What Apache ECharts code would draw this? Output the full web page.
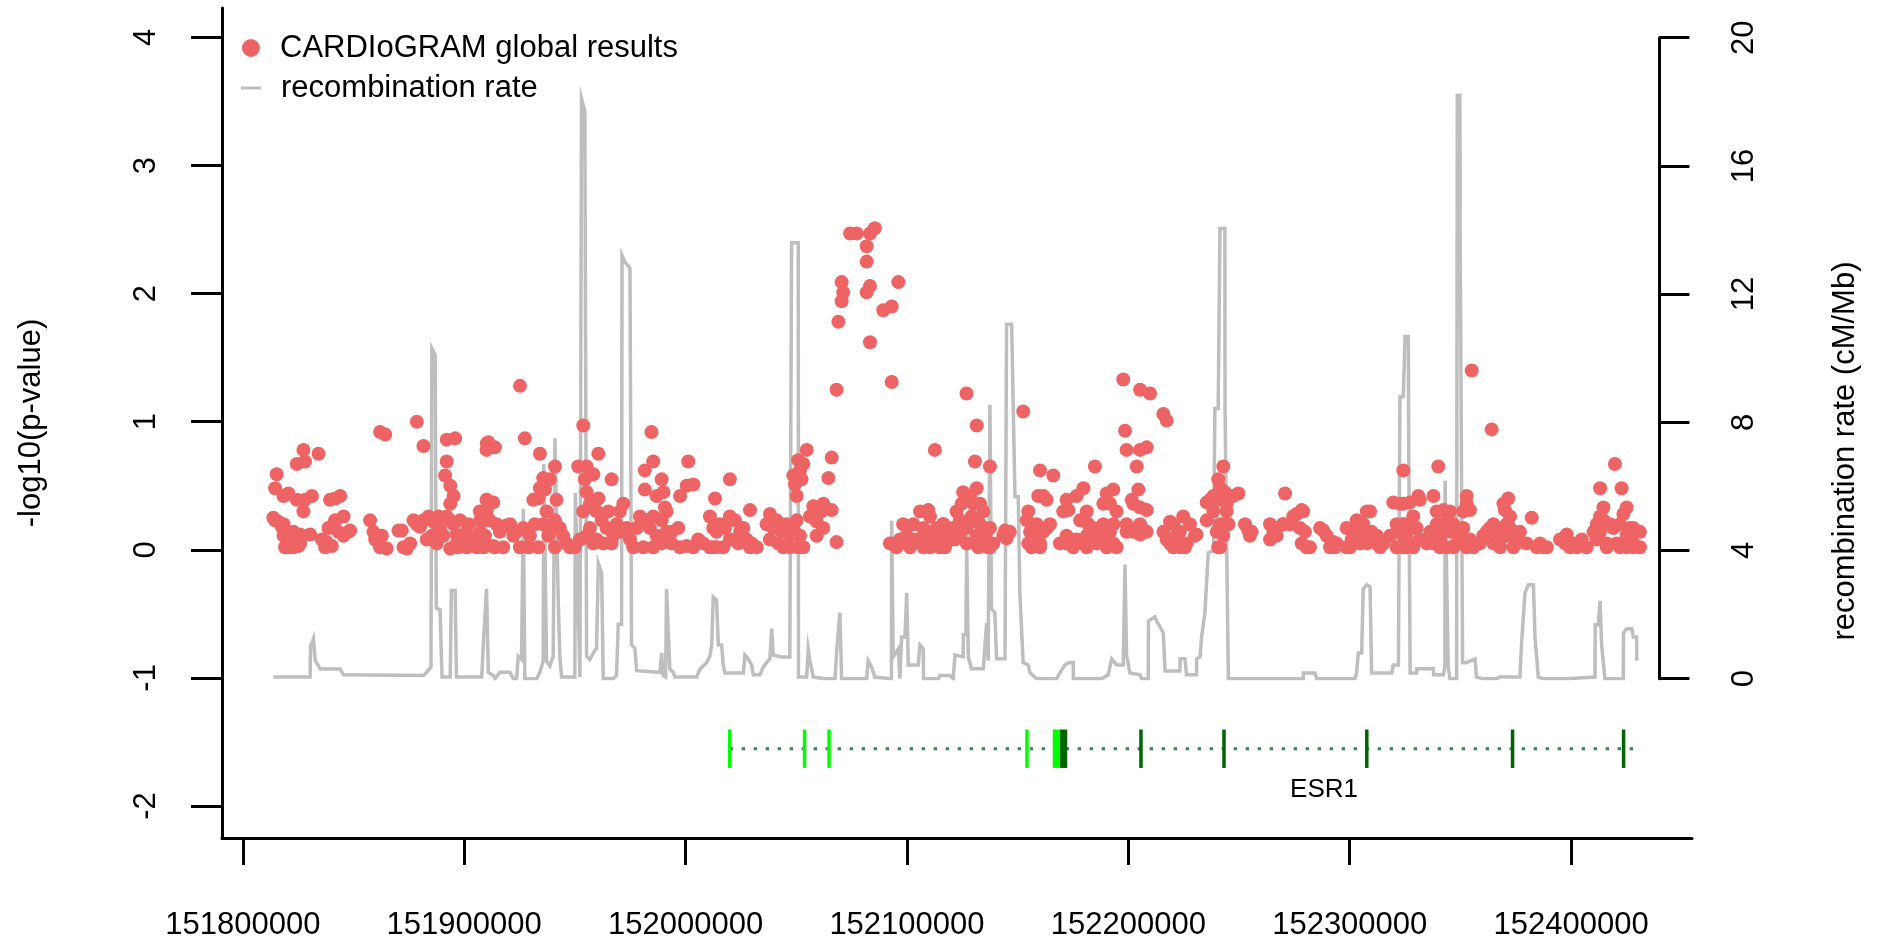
<!DOCTYPE html>
<html><head><meta charset="utf-8">
<script src="https://cdn.jsdelivr.net/npm/echarts@6/dist/echarts.min.js"></script>
<style>html,body{margin:0;padding:0;background:#fff}#c{width:1881px;height:943px}</style>
</head><body><div id="c"></div>
<script>
// ---- SNP association results (position bp, -log10 p) ----
const snpPos = [
151815300,151814600,151820600,151818400,151816100,151821400,151820600,151825100,151825900,151828100,
151827400,151824400,151828100,151827400,151834200,151831200,151830400,151837900,151841700,151841700,
151845500,151847700,151840200,151857500,151859800,151865000,151862800,151871800,151874100,151878600,
151881600,151885400,151864300,151878600,151881600,151892100,151895900,151892100,151891400,151893700,
151895200,151888400,151890600,151893700,151897400,151899700,151902000,151905700,151908700,151910200,
151910200,151907200,151862000,151824400,151818400,151814600,151822900,151893700,151896600,151887600,
151925200,151910900,151913900,151910100,151927400,151934200,151953800,151941000,151935700,151936500,
151933500,151941700,151951500,151955300,151958300,151954500,151960600,151966600,151955300,151960600,
151953800,151910100,151913100,151909400,151914600,151919100,151923700,151926700,151931900,151937200,
151941000,151943200,151938000,151946300,151950000,151941000,151933500,151928900,151917600,151913100,
151908600,151955300,151959800,151964300,151967300,151965100,151970300,151971900,151973400,151976400,
151980900,151985400,151989200,151993700,151982400,151985400,151989200,151991400,151996700,152000500,
152005700,152011000,152012500,152011000,152013300,151984600,151981600,151985400,151981600,151989200,
151990000,151990700,152000500,152003500,152001200,
152020000,152029100,152014000,152017800,152022300,152026100,152023800,152017000,152012500,152029100,
152029800,152038100,152039600,152043400,152047100,152041900,152047100,152050900,152051700,152054700,
152050900,152051700,152052400,152050200,152048700,152066000,152064500,152057700,152061400,152066000,
152059200,152059200,152068200,152074300,152077300,152085500,152083300,152081800,152081800,152070500,
152071200,152070500,152069000,152083300,152081800,152096100,152093100,152089300,152083300,152068200,
152093100,152112600,152109600,152110400,152107400,152111900,152116400,152098300,152099900,152095300,
152101400,152107400,152114900,152116400,
152126900,152131500,152152500,152130700,152137500,152125400,152131500,152124700,152130000,152129200,
152133000,152123900,152119400,152116400,152117200,152127000,152134500,152137500,152136700,152132200,
152144300,152145000,152160100,152166100,152161600,152154800,152158600,152163100,152155600,152158600,
152160100,152154800,152172100,152172900,152179700,152184900,152190200,152193200,152191700,152181200,
152181900,152181200,152172100,152175100,152181200,152185700,152190200,152193200,152194700,152199200,
152205300,152197700,152205300,152209800,152215800,152217300,152198500,152199200,152205300,152208300,
152203800,152204500,152202200,152208300,152218800,152218800,152221800,
152224800,152230800,152221800,152225600,152220300,152242900,152240600,152243600,152240600,152235400,
152249700,152244400,152241400,152245200,152241400,152254200,152254900,152270800,152278300,152276000,
152267000,152267000,152269900,152277500,152280500,152288100,152292600,152293300,152309200,152303100,
152306100,152300100,152304600,152312200,152313700,152324200,152319700,152324200,152324200,152321200,
152324200,152321200,
152355100,152364100,152340000,152331000,152337800,152327200,152352800,152354300,152371600,152370100,
152382200,152342300,152343800,152342300,152337800,152343800,152346800,152349800,152352800,152328700,
152325700,152328700,152334800,152360300,152363400,152364900,152367900,152370900,152375400,152373900,
152379900,152386000,152389000,152398000,152399500,152401000,152407000,152419800,152413100,152422800,
152413100,152417600,152413100,152423600,152426600,152428100,152420600,152416100,152429600,152425100,
// dense low band
151818400,151822900,151825900,151819100,151813800,151817600,151835700,151838700,151843200,151845500,
151848500,151837200,151841000,151839400,151844000,151859000,151862000,151870300,151872600,151875600,
151877100,151880100,151883900,151886100,151883100,151889100,151892100,151895200,151898200,151901200,
151904200,151907200,151896600,151901200,151887600,151908700,151893700,151910200,
151907100,151911600,151916100,151920700,151922200,151925200,151929700,151935700,151938700,151944700,
151947800,151952300,151956800,151958300,151962100,151962800,151966600,151968800,151971100,151974900,
151977900,151979400,151983900,151986900,151991400,151993700,151997500,152003500,152008000,152014000,
151934200,151938700,151931200,151956800,151959800,151986900,151997500,151909400,151913900,
152015500,152020000,152024600,152027600,152020000,152032100,152036600,152041100,152045600,152049400,
152044100,152038100,152050200,152053200,152053200,152049400,152062200,152056200,152062200,152092300,
152096800,152104400,152102900,152108900,152113400,152105900,152110400,152116400,
152117900,152121700,152120900,152114900,152123900,152127000,152130000,152131500,152136000,152139000,
152137500,152128500,152133000,152134500,152122400,152143500,152146500,152154100,152157100,152161600,
152164600,152160100,152156300,152159300,152163100,152169100,152172100,152176600,152179700,152182700,
152184200,152185700,152188700,152191700,152193200,152188700,152194700,152190200,152178200,152170600,
152176600,152199200,152202200,152208300,152205300,152201500,152205300,152215800,152220300,152217300,
152220300,152223300,152226300,152223300,152227800,152230100,152235400,152238400,152239900,152242900,
152244400,152247400,152236900,152240600,152242900,152241400,152238400,152252700,152255700,152264000,
152265500,152270000,152273000,152274500,152279000,152278300,152282000,152279800,152264000,152289600,
152291100,152294100,152286600,152298600,152300900,152303100,152306100,152307700,152309900,152312200,
152315200,152318200,152321200,152325700,152322700,152325700,152298600,152307700,
152324200,152325700,152330200,152331700,152324200,152331700,152328700,152336300,152339300,152340800,
152345300,152346800,152348300,152351300,152354300,152355800,152339300,152345300,152351300,152340800,
152352800,152358800,152361800,152366400,152367900,152370900,152372400,152375400,152376900,152364900,
152372400,152369400,152384500,152387500,152395000,152397300,152402500,152404800,152411600,152414600,
152419100,152422100,152425100,152428100,152431100,152411600,152416100,152422100,152428100,152431100,
152414600,152425100,152410100
];
const snpLogP = [
0.59,0.48,0.44,0.42,0.22,0.08,0.02,0.03,0.12,0.39,
0.30,0.67,0.69,0.78,0.75,0.42,0.12,0.06,0.40,0.23,
0.26,0.14,0.03,0.23,0.08,0.01,0.11,0.15,0.01,0.20,
0.23,0.11,0.90,1.00,0.81,0.86,0.87,0.69,0.58,0.50,
0.42,0.26,0.11,0.01,0.02,0.05,0.20,0.02,0.08,0.30,
0.83,0.23,0.92,0.39,0.20,0.23,0.14,0.23,0.12,0.08,
1.28,0.84,0.80,0.78,0.87,0.75,0.97,0.65,0.56,0.47,
0.40,0.39,0.65,0.65,0.59,0.55,0.75,0.55,0.45,0.40,
0.30,0.39,0.37,0.23,0.20,0.19,0.14,0.17,0.20,0.30,
0.23,0.17,0.11,0.05,0.02,0.02,0.02,0.02,0.02,0.03,
0.02,0.11,0.08,0.17,0.11,0.30,0.30,0.36,0.17,0.02,
0.02,0.02,0.05,0.14,0.23,0.26,0.23,0.30,0.17,0.03,
0.08,0.02,0.17,0.26,0.40,0.92,0.62,0.69,0.47,0.55,
0.45,0.33,0.50,0.51,0.69,
0.55,0.31,0.14,0.17,0.23,0.17,0.05,0.02,0.02,0.02,
0.05,0.28,0.17,0.14,0.11,0.05,0.02,0.02,0.11,0.78,
0.70,0.62,0.55,0.42,0.58,0.72,0.56,0.34,0.30,0.31,
0.22,0.11,0.06,2.47,2.47,2.51,2.47,2.37,2.25,2.09,
2.01,1.94,1.78,2.06,2.01,2.09,1.90,1.87,1.62,1.25,
1.31,0.78,0.31,0.26,0.17,0.11,0.20,0.20,0.11,0.02,
0.02,0.02,0.02,0.08,
1.22,0.97,1.08,0.69,0.65,0.45,0.48,0.36,0.36,0.26,
0.20,0.11,0.08,0.20,0.02,0.05,0.08,0.17,0.02,0.02,
0.15,0.09,0.62,0.58,0.42,0.30,0.20,0.17,0.14,0.05,
0.02,0.05,0.39,0.31,0.48,0.65,0.44,0.47,0.36,0.30,
0.20,0.11,0.05,0.02,0.02,0.05,0.11,0.20,0.02,0.14,
0.12,1.33,1.25,1.22,1.06,1.01,0.93,0.78,0.78,0.80,
0.65,0.47,0.36,0.31,0.22,0.05,0.11,
0.26,0.12,0.05,0.02,0.20,0.65,0.55,0.45,0.39,0.37,
0.44,0.30,0.20,0.20,0.02,0.15,0.11,0.44,0.31,0.28,
0.17,0.11,0.20,0.17,0.02,0.15,0.06,0.02,0.30,0.17,
0.11,0.02,0.05,0.05,0.02,0.62,0.37,0.36,0.20,0.14,
0.05,0.02,
1.40,0.94,0.65,0.42,0.42,0.37,0.42,0.31,0.40,0.31,
0.25,0.31,0.23,0.14,0.05,0.02,0.02,0.11,0.02,0.17,
0.08,0.02,0.05,0.11,0.17,0.05,0.02,0.20,0.12,0.02,
0.05,0.05,0.02,0.12,0.02,0.05,0.02,0.67,0.48,0.48,
0.26,0.20,0.14,0.28,0.17,0.05,0.05,0.02,0.14,0.02,
// dense low band
0.11,0.02,0.05,0.02,0.25,0.18,0.08,0.17,0.14,0.11,
0.15,0.02,0.20,0.39,0.42,0.14,0.02,0.15,0.02,0.05,
0.23,0.18,0.26,0.22,0.08,0.17,0.26,0.20,0.23,0.14,
0.08,0.14,0.05,0.02,0.05,0.02,0.36,0.39,
0.30,0.23,0.14,0.20,0.11,0.02,0.11,0.20,0.14,0.11,
0.02,0.08,0.17,0.05,0.23,0.05,0.05,0.20,0.14,0.08,
0.17,0.26,0.17,0.11,0.14,0.05,0.02,0.02,0.05,0.02,
0.48,0.55,0.39,0.36,0.30,0.42,0.42,0.11,0.02,
0.20,0.08,0.14,0.08,0.26,0.02,0.20,0.23,0.20,0.14,
0.02,0.08,0.23,0.02,0.67,0.51,0.36,0.26,0.17,0.05,
0.08,0.08,0.20,0.11,0.17,0.30,0.02,0.14,
0.14,0.08,0.17,0.05,0.23,0.17,0.23,0.11,0.14,0.05,
0.02,0.42,0.36,0.30,0.30,0.11,0.14,0.23,0.11,0.14,
0.20,0.05,0.02,0.42,0.39,0.05,0.11,0.08,0.05,0.08,
0.17,0.11,0.20,0.14,0.05,0.36,0.30,0.02,0.23,0.30,
0.42,0.20,0.14,0.14,0.20,0.39,0.33,0.14,0.02,0.08,
0.08,0.14,0.05,0.02,0.20,0.11,0.23,0.30,0.14,0.20,
0.36,0.42,0.39,0.02,0.11,0.48,0.42,0.20,0.14,0.20,
0.14,0.20,0.20,0.26,0.30,0.05,0.02,0.14,0.08,0.11,
0.02,0.05,0.17,0.17,0.08,0.23,0.20,0.05,0.14,0.11,
0.05,0.11,0.20,0.14,0.36,0.02,0.02,0.30,
0.20,0.14,0.17,0.08,0.02,0.39,0.26,0.14,0.20,0.08,
0.14,0.20,0.05,0.17,0.08,0.02,0.30,0.30,0.30,0.02,
0.36,0.05,0.14,0.14,0.08,0.11,0.17,0.05,0.14,0.20,
0.26,0.36,0.02,0.02,0.08,0.05,0.02,0.08,0.20,0.23,
0.17,0.20,0.11,0.17,0.14,0.08,0.05,0.02,0.02,0.02,
0.33,0.33,0.14
];

// ---- recombination rate (position bp, cM/Mb) ----
const recombPos = [
151813800,151830400,151830600,151831900,151832700,151834200,151835000,151844000,151845500,151846200,
151881600,151883100,151885000,151885400,151886900,151887400,151889100,151890000,151893700,151894200,
151895900,151896500,151907900,151908900,151910100,151910900,151913100,151913900,151916100,151920700,
151922200,151923700,151924400,151925900,151926700,151927400,151932700,151934200,151935700,151936000,
151936600,151937200,151938700,151940200,151941000,151942500,151943200,151944000,151950000,151950200,
151950800,151952300,151953000,151954500,151955300,151956800,151958300,151959800,151960600,151962100,
151962800,151967300,151968800,151969600,151971100,151971300,151972600,151974900,151975600,151977100,
151977900,151988400,151989200,151989900,151991000,151991400,151992900,151994400,151995200,152005000,
152006500,152009500,152011000,152011800,152012500,152014000,152014800,152016300,152017000,152017800,
152026100,152026800,152028300,152029800,152030600,152033600,152035100,152036600,152038100,152038900,
152039600,152043400,152047100,152047900,152050900,152051000,152054700,152055400,152056200,152057700,
152063000,152067500,152068200,152069700,152070500,152081800,152082500,152084000,152085500,152093000,
152093100,152093800,152096100,152096800,152097600,152099100,152099900,152100600,152105100,152105900,
152107400,152107500,152114200,152114900,152119400,152120900,152121700,152125400,152125500,152126600,
152127000,152127700,152128500,152129200,152134500,152136000,152136700,152137500,152138200,152139700,
152140500,152144300,152145000,152147300,152148000,152148800,152150300,152151000,152152500,152154800,
152155600,152158600,152167600,152169100,152171400,152172900,152175100,152175200,152187900,152188700,
152190900,152192500,152194700,152197700,152198500,152199200,152200700,152205300,152206000,152209000,
152209100,152212000,152212800,152214300,152215800,152216600,152223300,152223400,152225600,152226300,
152230800,152230900,152232400,152233100,152233900,152234600,152235400,152236100,152238500,152239100,
152240600,152241400,152243600,152243700,152244400,152245200,152279000,152279100,152284300,152285100,
152302400,152303100,152303900,152305400,152306100,152307700,152309200,152309900,152319000,152319700,
152322000,152322700,152324200,152325000,152326500,152326600,152327200,152327300,152330200,152330300,
152337800,152337900,152342300,152343000,152343100,152343800,152344500,152345300,152348300,152348600,
152349800,152349900,152350600,152351000,152352800,152356600,152357300,152360300,152366400,152367900,
152376900,152377700,152378400,152379200,152380700,152383000,152383700,152384500,152385200,152387500,
152398000,152398800,152410800,152410900,152412300,152413100,152413800,152414600,152415300,152423600,
152423700,152425100,152427400,152428100,152429600,152429700
];
const recombRate = [
0.05,0.05,1.0,1.25,0.56,0.4,0.3,0.3,0.12,0.1,
0.1,0.2,0.37,10.3,10.1,2.2,2.15,0.05,0.05,2.75,
2.75,0.05,0.05,1.4,2.8,0.2,0.1,0.0,0.2,0.2,
0.0,0.0,0.7,0.6,5.3,0.0,0.0,0.2,0.55,6.7,
6.7,0.55,0.4,0.7,7.5,2.4,0.7,0.05,0.05,5.8,
5.8,0.05,18.1,17.7,0.7,0.6,0.8,0.95,3.6,3.3,
0.0,0.0,0.1,1.7,1.7,13.2,13.0,12.8,1.05,0.95,
0.25,0.2,0.8,0.1,0.05,2.8,0.3,0.2,0.05,0.05,
0.3,0.5,0.7,1.05,2.55,2.45,1.05,1.05,0.43,0.18,
0.18,0.74,0.62,0.43,0.12,0.12,0.37,0.5,0.62,1.56,
0.74,0.68,0.68,13.6,13.6,0.05,0.05,0.93,0.56,0.05,
0.0,0.0,0.8,2.06,0.0,0.0,0.56,0.37,0.05,0.0,
4.93,0.68,0.93,0.0,1.3,1.3,2.68,0.43,0.43,1.05,
0.93,0.0,0.0,0.1,0.1,0.0,0.74,0.68,1.37,1.37,
4.06,0.68,0.62,0.31,0.31,1.74,0.56,8.55,2.18,2.06,
0.62,0.62,11.06,11.06,8.55,5.68,5.68,2.68,0.5,0.43,
0.18,0.0,0.0,0.18,0.43,0.5,0.5,0.0,0.0,0.05,
0.12,0.62,0.43,0.43,3.56,0.74,0.18,0.12,0.0,0.0,
1.8,1.93,1.8,1.62,1.43,0.24,0.24,0.62,0.62,0.12,
0.12,0.62,0.68,1.3,1.3,2.06,2.06,3.93,4.0,8.43,
8.43,14.05,14.05,8.43,4.3,0.0,0.0,0.18,0.18,0.0,
0.0,0.18,0.8,0.8,2.8,2.93,2.87,0.18,0.18,0.43,
0.43,8.8,8.8,10.68,10.68,8.05,8.05,0.18,0.18,0.31,
0.31,0.12,0.12,0.37,6.18,6.18,0.37,0.0,0.0,18.2,
18.2,13.8,13.8,0.5,0.5,0.62,0.05,0.0,0.0,0.05,
0.05,1.18,1.18,2.68,2.93,2.93,1.3,1.3,0.05,0.0,
0.0,0.05,0.05,1.68,1.68,2.43,1.05,1.05,0.0,0.0,
1.43,1.56,1.56,1.3,1.3,0.56
];

// ---- gene model ----
const geneName = 'ESR1';
const geneStart = 152019870;
const geneEnd = 152429300;
const exonStart = [152019200,152053100,152064100,152153500,152165850,152169100,152205000,152242500,152307000,152372800,152423000];
const exonEnd   = [152020600,152054400,152065500,152154900,152169100,152172400,152206400,152243900,152308400,152374300,152424400];
const exonKind  = ['light','light','light','light','light','dark','dark','dark','dark','dark','dark'];
const geneLabelPos = 152288400;

// ---- axis ticks ----
const xTicks = [151800000,151900000,152000000,152100000,152200000,152300000,152400000];
const yTicksLeft = [-2,-1,0,1,2,3,4];
const seriesNames = ['CARDIoGRAM global results','recombination rate'];
const axisTitles = ['-log10(p-value)','recombination rate (cM/Mb)'];

// ---- layout / style constants ----
const FONT = '"Liberation Sans", Arial, Helvetica, sans-serif';
const X_MIN = 151790600, X_MAX = 152454600, X2_MAX = 152439900;
const Y_MIN = -2.25, Y_MAX = 4.23;
const GENE_Y = -1.553, EXON_HALF = 0.15, GENE_LABEL_Y = -1.877;
const RED = '#EE6363', GRAY = '#BEBEBE';
const EXON_COLORS = {light:'#00FF00', dark:'#006400'};

const chart = echarts.init(document.getElementById('c'), null, {renderer:'canvas'});

const snpData = snpPos.map((p,i)=>[p, snpLogP[i]]);
const recombData = recombPos.map((p,i)=>[p, recombRate[i]]);
const exonData = exonStart.map((s,i)=>[s, exonEnd[i], exonKind[i]]);

const blackLine = {color:'#000', width:3};
const labelBase = {color:'#000', fontSize:31, fontFamily:FONT};

chart.setOption({
  animation:false,
  backgroundColor:'#fff',
  textStyle:{fontFamily:FONT},
  grid:[
    {left:222, top:8, width:1470, height:830},
    {left:222, top:37.7, width:1437.4, height:641}
  ],
  legend:[
    {data:[{name:seriesNames[0], icon:'circle'}], left:242, top:30, padding:0,
     itemWidth:20, itemHeight:18, selectedMode:false,
     textStyle:{color:'#000', fontSize:31, fontFamily:FONT, lineHeight:36, padding:[0,0,0,14]}},
    {data:[{name:seriesNames[1], icon:'rect'}], left:241, top:70, padding:0,
     itemWidth:20, itemHeight:3, selectedMode:false,
     textStyle:{color:'#000', fontSize:31, fontFamily:FONT, lineHeight:36, padding:[0,0,0,15]}}
  ],
  xAxis:[
    {type:'value', gridIndex:0, min:X_MIN, max:X_MAX, position:'bottom',
     axisLine:{show:true, onZero:false, lineStyle:blackLine},
     axisTick:{show:true, length:27, customValues:xTicks, lineStyle:blackLine},
     axisLabel:Object.assign({customValues:xTicks, margin:72, formatter:v=>String(v)}, labelBase),
     splitLine:{show:false}},
    {type:'value', gridIndex:1, min:X_MIN, max:X2_MAX, show:false}
  ],
  yAxis:[
    {type:'value', gridIndex:0, min:Y_MIN, max:Y_MAX, position:'left',
     axisLine:{show:true, onZero:false, lineStyle:blackLine},
     axisTick:{show:true, length:31, customValues:yTicksLeft, lineStyle:blackLine},
     axisLabel:Object.assign({customValues:yTicksLeft, rotate:90, margin:60}, labelBase),
     splitLine:{show:false},
     name:axisTitles[0], nameLocation:'middle', nameRotate:90, nameGap:175,
     nameTextStyle:{color:'#000', fontSize:31, fontFamily:FONT}},
    {type:'value', gridIndex:1, min:0, max:20, interval:4, position:'right',
     axisLine:{show:true, onZero:false, lineStyle:blackLine},
     axisTick:{show:true, length:30, lineStyle:blackLine},
     axisLabel:Object.assign({rotate:90, margin:70}, labelBase),
     splitLine:{show:false}},
    {type:'value', gridIndex:0, min:Y_MIN, max:Y_MAX, position:'right',
     axisLine:{show:false}, axisTick:{show:false}, axisLabel:{show:false}, splitLine:{show:false},
     name:axisTitles[1], nameLocation:'middle', nameRotate:90, nameGap:138,
     nameTextStyle:{color:'#000', fontSize:31, fontFamily:FONT, padding:[0,56,0,0]}}
  ],
  series:[
    {name:seriesNames[1], type:'line', xAxisIndex:1, yAxisIndex:1, data:recombData,
     showSymbol:false, symbol:'none', z:1, color:GRAY, itemStyle:{color:GRAY},
     lineStyle:{color:GRAY, width:3.5, join:'miter'}, silent:true},
    {name:'gene', type:'line', xAxisIndex:0, yAxisIndex:0,
     data:[[geneStart, GENE_Y],[geneEnd, GENE_Y]], showSymbol:false, symbol:'none', z:2,
     lineStyle:{color:'#2E8B57', width:3, type:[3.5,8.5]}, silent:true},
    {name:'exons', type:'custom', xAxisIndex:0, yAxisIndex:0, data:exonData, z:3, silent:true,
     renderItem:function(params, api){
       const a = api.coord([api.value(0), GENE_Y + EXON_HALF]);
       const b = api.coord([api.value(1), GENE_Y - EXON_HALF]);
       let x0 = a[0], w = b[0]-a[0];
       if (w < 3.5) { x0 = (a[0]+b[0])/2 - 1.75; w = 3.5; }
       const kind = exonData[params.dataIndex][2];
       return {type:'rect', shape:{x:x0, y:a[1], width:w, height:b[1]-a[1]},
               style:{fill:EXON_COLORS[kind]}};
     }},
    {name:'geneLabel', type:'custom', xAxisIndex:0, yAxisIndex:0, data:[[geneLabelPos, GENE_LABEL_Y]],
     z:3, silent:true,
     renderItem:function(params, api){
       const p = api.coord([api.value(0), api.value(1)]);
       return {type:'text', x:p[0], y:p[1],
               style:{text:geneName, fill:'#000', fontSize:26, fontFamily:FONT,
                      align:'center', verticalAlign:'middle'}};
     }},
    {name:seriesNames[0], type:'scatter', xAxisIndex:0, yAxisIndex:0, data:snpData,
     symbol:'circle', symbolSize:14, z:4, itemStyle:{color:RED, opacity:1}, silent:true}
  ]
});
</script>
</body></html>
